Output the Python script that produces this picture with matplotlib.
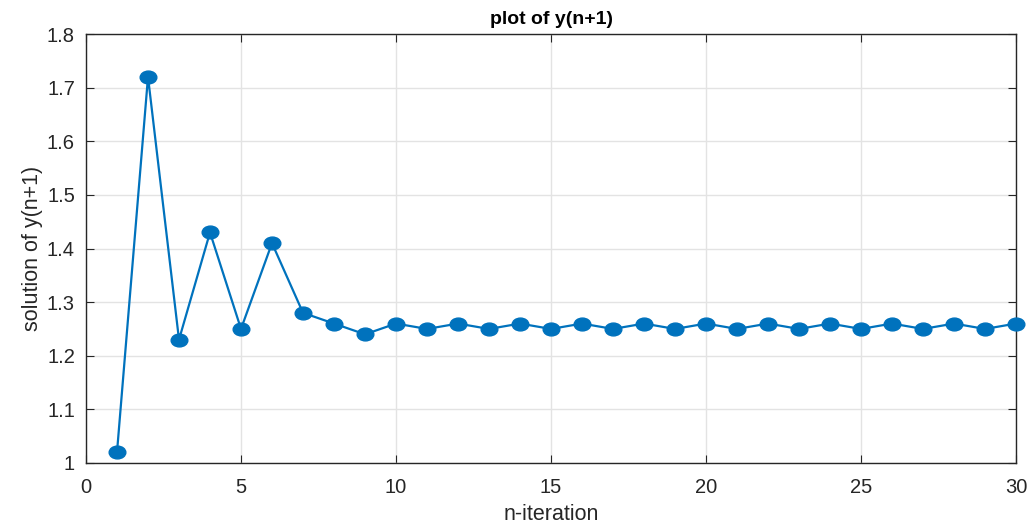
import matplotlib
matplotlib.use("Agg")
import matplotlib.pyplot as plt
from matplotlib.path import Path
from matplotlib.transforms import Affine2D

# iterations and the computed y(n+1) values
n_iter = list(range(1, 31))
y_vals = [1.02, 1.72, 1.23, 1.43, 1.25, 1.41, 1.28, 1.26, 1.24, 1.26,
          1.25, 1.26, 1.25, 1.26, 1.25, 1.26, 1.25, 1.26, 1.25, 1.26,
          1.25, 1.26, 1.25, 1.26, 1.25, 1.26, 1.25, 1.26, 1.25, 1.26]

x_ticks = [0, 5, 10, 15, 20, 25, 30]
y_ticks = [1, 1.1, 1.2, 1.3, 1.4, 1.5, 1.6, 1.7, 1.8]
y_tick_labels = ["1", "1.1", "1.2", "1.3", "1.4", "1.5", "1.6", "1.7", "1.8"]

plt.rcParams['font.family'] = ['Liberation Sans', 'DejaVu Sans']

# the picture is a little stretched sideways, so use a wide ellipse marker
oval = Path.unit_circle().transformed(Affine2D().scale(1.3, 1.0))

fig = plt.figure(figsize=(10.29, 5.28), dpi=100)
ax = fig.add_axes([86 / 1029, 1 - 463 / 528, 930 / 1029, 429 / 528])

ax.plot(n_iter, y_vals, '-', color='#0072BD', lw=1.6,
        marker=oval, markersize=12, markerfacecolor='#0072BD',
        markeredgecolor='#0072BD', clip_on=False, zorder=3)

ax.set_xlim(0, 30)
ax.set_ylim(1, 1.8)
ax.set_xticks(x_ticks)
ax.set_yticks(y_ticks)
ax.set_yticklabels(y_tick_labels)
ax.grid(True, color='#e3e3e3', lw=1.0)
ax.set_axisbelow(True)

dark = '#262626'
for s in ax.spines.values():
    s.set_color(dark)
    s.set_linewidth(1.0)
ax.tick_params(direction='in', top=True, right=True, length=6,
               color=dark, labelcolor=dark, labelsize=14.5)
ax.tick_params(axis='x', pad=11)
ax.tick_params(axis='y', pad=8)

ax.set_title('plot of y(n+1)', fontsize=14, fontweight='bold', color='black', pad=7)
ax.set_xlabel('n-iteration', fontsize=15.5, color=dark, labelpad=5)
ax.set_ylabel('solution of y(n+1)', fontsize=15.5, color=dark, labelpad=3)

fig.savefig('out.png', dpi=100)
